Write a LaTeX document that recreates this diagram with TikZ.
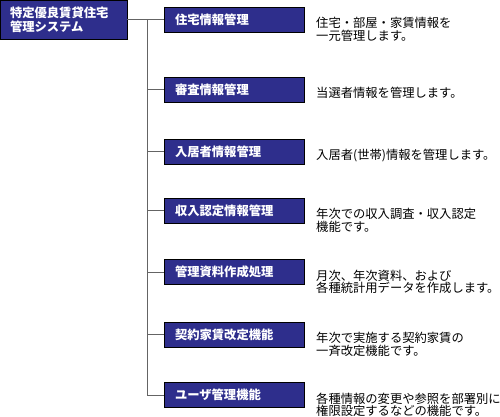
\documentclass[tikz,border=0pt]{standalone}
\usepackage{fontspec}
\newfontfamily\jp{Noto Sans CJK JP}
\definecolor{navy}{RGB}{46,46,140}
\definecolor{linegray}{RGB}{100,100,100}
\begin{document}
\begin{tikzpicture}[x=1pt,y=-1pt,
  rootbox/.style={draw=black,line width=0.8pt,fill=navy,text=white,
    minimum width=127pt,minimum height=39pt,text width=107pt,inner xsep=10pt,inner ysep=0pt,
    align=left,font=\jp\bfseries\fontsize{12.3}{14}\selectfont},
  box/.style={draw=black,line width=0.8pt,fill=navy,text=white,
    minimum width=140pt,minimum height=25pt,text width=118pt,inner xsep=11pt,inner ysep=0pt,
    align=left,font=\jp\bfseries\fontsize{12.3}{13}\selectfont},
  desc/.style={anchor=north west,inner sep=0pt,align=left,
    font=\jp\fontsize{12.3}{12.6}\selectfont},
  conn/.style={draw=linegray,line width=0.8pt}]
\useasboundingbox (0,0) rectangle (500,416);
\node[rootbox] (root) at (63.5,19.5) {特定優良賃貸住宅\\管理システム};
\node[box] (c1) at (234,19.5) {住宅情報管理};
\node[box] (c2) at (234,89.5) {審査情報管理};
\node[box] (c3) at (234,151.5) {入居者情報管理};
\node[box] (c4) at (234,210.5) {収入認定情報管理};
\node[box] (c5) at (234,272) {管理資料作成処理};
\node[box] (c6) at (234,334.5) {契約家賃改定機能};
\node[box] (c7) at (234,395) {ユーザ管理機能};
\node[desc] (d1) at (316,17) {住宅・部屋・家賃情報を\\一元管理します。};
\node[desc] (d2) at (316,87) {当選者情報を管理します。};
\node[desc] (d3) at (316,149) {入居者(世帯)情報を管理します。};
\node[desc] (d4) at (316,208) {年次での収入調査・収入認定\\機能です。};
\node[desc] (d5) at (316,269.5) {月次、年次資料、および\\各種統計用データを作成します。};
\node[desc] (d6) at (316,332) {年次で実施する契約家賃の\\一斉改定機能です。};
\node[desc] (d7) at (316,392.5) {各種情報の変更や参照を部署別に\\権限設定するなどの機能です。};
\coordinate (j) at (147,19.5);
\draw[conn] (root.east) -- (c1.west);
\draw[conn] (j) -- (j |- c7.west);
\foreach \c in {c2,c3,c4,c5,c6,c7} \draw[conn] (j |- \c.west) -- (\c.west);
\end{tikzpicture}
\end{document}
